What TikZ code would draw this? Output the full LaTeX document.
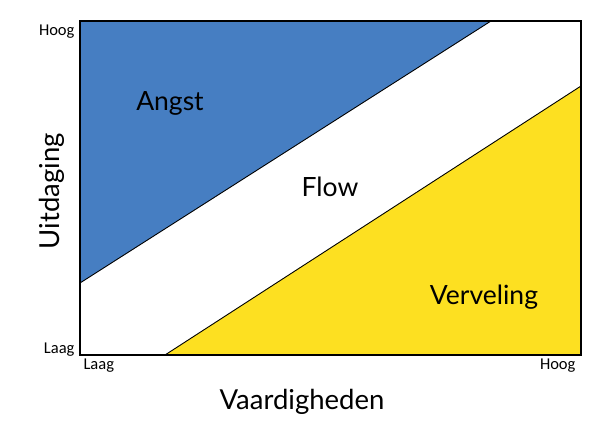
\documentclass[tikz,border=0pt]{standalone}
\usepackage{fontspec}
\setmainfont{Lato}
\newfontfamily\smallfont{Carlito}
\definecolor{angstblue}{RGB}{70,126,194}
\definecolor{boreyellow}{RGB}{253,224,33}
\begin{document}
\begin{tikzpicture}[x=1pt,y=-1pt]
\tikzset{
  zone/.style={draw=black,line width=0.9pt,line join=miter},
  big/.style={font=\fontsize{26.5}{30}\selectfont},
  axis/.style={font=\fontsize{27.5}{32}\selectfont},
  tick/.style={font=\smallfont\fontsize{16.5}{18}\selectfont}
}
\useasboundingbox (0,0) rectangle (603,423);
\coordinate (tl) at (80,21);
\coordinate (tr) at (581,21);
\coordinate (br) at (581,355);
\coordinate (bl) at (80,355);
\coordinate (bluetop) at (491,21);
\coordinate (blueleft) at (80,283);
\coordinate (yelbot) at (165,355);
\coordinate (yelright) at (581,86);
\fill[white] (tl) rectangle (br);
\filldraw[zone,fill=angstblue] (tl) -- (bluetop) -- (blueleft) -- cycle;
\filldraw[zone,fill=boreyellow] (yelbot) -- (yelright) -- (br) -- cycle;
\draw[line width=1.3pt] (tl) rectangle (br);
\node[big] (angst) at (170,103) {Angst};
\node[big] (flow) at (330,187) {Flow};
\node[big] (verv) at (484,297) {Verveling};
\node[axis,rotate=90] (uit) at (52,191) {Uitdaging};
\node[axis] (vaard) at (302,402) {Vaardigheden};
\node[tick,anchor=east] (hoogy) at (78,32) {Hoog};
\node[tick,anchor=east] (laagy) at (78,350) {Laag};
\node[tick,anchor=west] (laagx) at (80,366) {Laag};
\node[tick,anchor=east] (hoogx) at (579,366) {Hoog};
\end{tikzpicture}
\end{document}
